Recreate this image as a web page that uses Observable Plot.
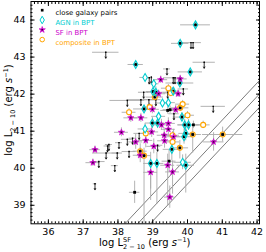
<!DOCTYPE html>
<html><head><meta charset="utf-8">
<script src="https://cdn.jsdelivr.net/npm/d3@7"></script>
<script src="https://cdn.jsdelivr.net/npm/@observablehq/plot@0.6"></script>
<style>body{margin:0;background:#fff} svg{font-family:"DejaVu Sans",sans-serif}</style>
</head><body><div id="chart"></div>
<script>
const xDomain = [35.5, 42.07];
const yDomain = [38.5, 44.5];
const xTicks = [36, 37, 38, 39, 40, 41, 42];
const yTicks = [39, 40, 41, 42, 43, 44];
const relationOffsets = [0.30, -0.065, -0.425];

// [x, y, xerr, yerrLow, yerrHigh, pair]
const agn = [
  [40.23,43.87,0.43,0.08,0.08,1],[39.79,43.37,0.25,0.08,0.08,1],[38.51,42.80,0.22,0.08,0.08,1],
  [40.08,42.60,0.35,0.08,0.08,1],[39.78,42.30,0.40,0.1,0.1,1],[39.01,42.07,0.2,0.1,0.1,1],
  [39.09,42.05,0.25,0.15,0.15,1],[39.59,42.08,0.2,0.1,0.1,1],[38.75,41.60,0.30,0.1,0.1,1],
  [39.84,41.38,0.25,0.12,0.12,1],[39.92,41.17,0.2,0.15,0.15,1],[40.03,41.17,0.3,0.15,0.15,1],
  [38.99,41.22,0.2,0.15,0.15,1],[39.14,41.22,0.2,0.15,0.15,1],[39.95,40.94,0.2,0.2,0.2,1],
  [39.90,40.85,0.25,0.2,0.2,1],[39.55,40.51,0.25,0.3,0.3,1],[38.94,40.13,0.2,1.0,0.3,1],
  [39.12,40.13,0.2,1.1,0.3,1],[39.95,40.08,0.25,0.75,0.3,1],
  [38.78,42.45,0.15,0.08,0.08,0],[39.03,42.28,0.15,0.1,0.1,0],[39.28,41.76,0.2,0.1,0.1,0],
  [39.45,41.77,0.2,0.1,0.1,0],[38.78,41.06,0.2,0.15,0.15,0],[39.86,40.16,0.25,0.2,0.2,0],
  [39.17,41.40,0.2,0.1,0.1,0]
];
const sf = [
  [39.23,42.39,0.2,0.1,0.1,1],[39.79,42.41,0.2,0.1,0.1,1],[39.17,42.01,0.2,0.1,0.1,1],
  [39.73,42.01,0.2,0.1,0.1,1],[38.99,41.59,0.2,0.12,0.12,1],[39.66,41.58,0.2,0.12,0.12,1],
  [38.37,41.36,0.2,0.12,0.12,1],[38.66,41.36,0.2,0.12,0.12,1],[39.25,41.17,0.2,0.15,0.15,1],
  [39.45,41.05,0.2,0.2,0.2,1],[39.45,41.21,0.2,0.15,0.15,1],[38.10,40.97,0.2,0.12,0.12,1],
  [38.97,40.98,0.2,0.15,0.15,1],[39.33,40.89,0.2,0.2,0.2,1],[39.60,40.85,0.2,0.2,0.2,1],
  [38.51,40.71,0.2,0.2,0.2,1],[38.80,40.75,0.2,0.2,0.2,1],[39.03,40.59,0.2,0.2,0.2,1],
  [39.34,40.74,0.2,0.2,0.2,1],[37.34,40.50,0.15,0.1,0.1,1],[37.28,40.15,0.2,0.1,0.1,1],
  [38.64,40.35,0.2,0.2,0.2,1],[39.43,40.08,0.2,1.1,0.3,1],[39.57,39.90,0.2,0.6,0.3,1],
  [38.94,39.89,0.2,0.45,0.3,1],[39.49,39.22,0.15,0.3,0.3,1],[40.75,40.71,0.3,0.25,0.25,1]
];
const comp = [
  [39.45,42.16,0.2,0.1,0.1,0],[39.52,42.03,0.2,0.1,0.1,0],[39.86,41.73,0.2,0.1,0.1,0],
  [38.91,41.65,0.2,0.1,0.1,0],[40.00,41.43,0.2,0.1,0.1,0],[40.45,41.17,0.2,0.1,0.1,0],
  [38.32,41.51,0.2,0.1,0.1,0],[38.80,40.94,0.2,0.1,0.1,0],[39.57,40.89,0.2,0.1,0.1,0],
  [39.57,40.71,0.2,0.1,0.1,0],[39.06,41.92,0.25,0.1,0.1,1],[39.79,41.63,0.25,0.1,0.1,1],
  [40.15,40.91,0.25,0.5,0.2,1],[41.01,40.91,0.58,0.2,0.2,1],[38.64,40.46,0.2,0.2,0.2,1],
  [38.75,40.34,0.2,1.9,0.2,1],[39.78,40.55,0.25,0.3,0.2,1]
];
const pairsOnly = [
  [39.43,41.56,0.2,0.1,0.1],[39.50,41.58,0.2,0.1,0.1],[40.17,41.17,0.3,0.1,0.1],
  [39.47,40.19,0.2,0.3,0.3],[38.48,39.35,0.15,0.3,0.3]
];
// [x, y, xerr] upper limits
const upperLimits = [
  [37.65,43.13,0.38],[40.10,43.39,0.3],[40.16,43.39,0],[40.48,42.86,0.32],[39.41,42.68,0.1],
  [39.59,42.44,0.28],[39.64,42.44,0],[38.90,42.44,0.1],[38.96,42.46,0],[38.74,42.05,0.15],
  [39.88,42.14,0.15],[39.43,42.05,0.1],[40.74,41.67,0.35],[38.66,41.85,0.4],[38.27,41.83,0.5],
  [38.89,41.85,0.15],[39.09,41.85,0.15],[39.61,41.47,0.15],[37.34,39.58,0.05],[37.45,40.18,0.18],
  [37.70,40.60,0.1],[37.66,40.41,0.39],[37.98,40.41,0.15],[38.03,40.69,0.1],[37.91,40.07,0.1],
  [38.32,40.45,0.2],[38.27,40.78,0.17],[38.42,40.81,0.1],[38.61,40.94,0.15],[39.14,40.62,0.15],
  [37.74,40.64,0.1]
];
const legendLabels = ["close galaxy pairs", "AGN in BPT", "SF in BPT", "composite in BPT"];
const legendColors = ["black", "#00CED1", "#CC00CC", "#FFA500"];
const CYAN = legendColors[1], MAG = legendColors[2], ORA = legendColors[3];

const rows = (arr, cls) => arr.map(([x,y,xe,ylo,yhi,pair]) => ({x,y,xe,ylo,yhi,pair,cls}));
const det = [...rows(agn,"agn"), ...rows(sf,"sf"), ...rows(comp,"comp"),
  ...pairsOnly.map(([x,y,xe,ylo,yhi]) => ({x,y,xe,ylo,yhi,pair:1,cls:"pair"}))];
const ul = upperLimits.map(([x,y,xe]) => ({x,y,xe}));
const relLines = relationOffsets.flatMap(c => xDomain.map(x => ({c, x, y: x + c})));
const xMinor = d3.range(356, 421).map(v => v/10);
const yMinor = d3.range(386, 445).map(v => v/10);

const legendMarks = [];
const lx = 11.2, ly0 = 8.7, lstep = 9.8;
legendMarks.push(Plot.dot([0], {frameAnchor:"top-left", dx:lx, dy:ly0, symbol:"square", r:1.5, fill:"black"}));
legendMarks.push(Plot.dot([0], {frameAnchor:"top-left", dx:lx, dy:ly0+lstep, symbol:"diamond", r:2.3, stroke:CYAN, strokeWidth:1, fill:"white"}));
legendMarks.push(Plot.dot([0], {frameAnchor:"top-left", dx:lx, dy:ly0+2*lstep, symbol:"star", r:2.0, stroke:MAG, fill:MAG, strokeWidth:0.6}));
legendMarks.push(Plot.dot([0], {frameAnchor:"top-left", dx:lx, dy:ly0+2*lstep, symbol:"square", r:0.8, fill:"#300030"}));
legendMarks.push(Plot.dot([0], {frameAnchor:"top-left", dx:lx, dy:ly0+3*lstep, r:2.3, stroke:ORA, strokeWidth:1, fill:"white"}));
legendLabels.forEach((lab, i) => legendMarks.push(
  Plot.text([lab], {frameAnchor:"top-left", dx:24.5, dy:ly0+i*lstep, text:d=>d, textAnchor:"start", fill:legendColors[i], fontSize:6.9})
));

const svg = Plot.plot({
  width: 266, height: 252,
  marginLeft: 30.5, marginRight: 7, marginTop: 1, marginBottom: 28.7,
  style: {fontFamily: "DejaVu Sans, sans-serif", fontSize: "9.5px", color: "black", background: "white"},
  x: {domain: xDomain, label: null},
  y: {domain: yDomain, label: null},
  marks: [
    Plot.line(relLines, {x:"x", y:"y", z:"c", stroke:"#444", strokeWidth:0.7, clip:true}),
    Plot.ruleY(det.filter(d => d.xe > 0), {y:"y", x1:d => d.x - d.xe, x2:d => d.x + d.xe, stroke:"#aaaaaa", strokeWidth:0.9, clip:true}),
    Plot.ruleX(det, {x:"x", y1:d => d.y - d.ylo, y2:d => d.y + d.yhi, stroke:"#aaaaaa", strokeWidth:0.9, clip:true}),
    Plot.ruleY(ul.filter(d => d.xe > 0), {y:"y", x1:d => d.x - d.xe, x2:d => d.x + d.xe, stroke:"#aaaaaa", strokeWidth:0.9, clip:true}),
    Plot.arrow(ul, {x1:"x", y1:"y", x2:"x", y2:d => d.y - 0.16, stroke:"black", strokeWidth:0.8, headLength:2.6}),
    Plot.dot(ul, {x:"x", y:"y", symbol:"square", r:0.8, fill:"black"}),
    Plot.dot(det.filter(d => d.pair), {x:"x", y:"y", symbol:"square", r:1.6, fill:"black"}),
    Plot.dot(det.filter(d => d.cls === "comp"), {x:"x", y:"y", r:2.5, stroke:ORA, strokeWidth:1.1, fill:d => d.pair ? "none" : "white"}),
    Plot.dot(det.filter(d => d.cls === "agn"), {x:"x", y:"y", symbol:"diamond", r:2.4, stroke:CYAN, strokeWidth:1.1, fill:d => d.pair ? "none" : "white"}),
    Plot.dot(det.filter(d => d.cls === "sf"), {x:"x", y:"y", symbol:"star", r:2.0, fill:MAG, stroke:MAG, strokeWidth:0.6}),
    Plot.dot(det.filter(d => d.cls === "sf"), {x:"x", y:"y", symbol:"square", r:0.8, fill:"#300030"}),
    ...legendMarks,
    Plot.frame({stroke:"black", strokeWidth:1}),
    Plot.axisX(xTicks, {anchor:"bottom", tickSize:-4, tickPadding:8, label:null, fontSize:9.5}),
    Plot.axisX(xMinor, {anchor:"bottom", tickSize:-2, fill:"none", label:null}),
    Plot.axisX(xTicks, {anchor:"top", tickSize:-4, fill:"none", label:null}),
    Plot.axisX(xMinor, {anchor:"top", tickSize:-2, fill:"none", label:null}),
    Plot.axisY(yTicks, {anchor:"left", tickSize:-4, tickPadding:9.5, label:null, fontSize:9.5}),
    Plot.axisY(yMinor, {anchor:"left", tickSize:-2, fill:"none", label:null}),
    Plot.axisY(yTicks, {anchor:"right", tickSize:-4, fill:"none", label:null}),
    Plot.axisY(yMinor, {anchor:"right", tickSize:-2, fill:"none", label:null})
  ]
});
document.getElementById("chart").append(svg);

const S = d3.select(svg);
// x label
const xl = S.append("text").attr("x", 144.75).attr("y", 246).attr("text-anchor", "middle")
  .attr("font-size", 10).attr("fill", "black");
xl.append("tspan").text("log L");
xl.append("tspan").attr("font-size", 6.5).attr("dy", -4.5).text("SF");
xl.append("tspan").attr("font-size", 6.5).attr("dx", -7.9).attr("dy", 7.5).text("2 − 10");
xl.append("tspan").attr("dy", -3).text(" (erg ");
xl.append("tspan").attr("font-style", "italic").text("s");
xl.append("tspan").attr("font-size", 6.5).attr("dy", -4).text("−1");
xl.append("tspan").attr("dy", 4).text(")");
// y label
const yl = S.append("text").attr("transform", "rotate(-90)").attr("x", -110).attr("y", 12)
  .attr("text-anchor", "middle").attr("font-size", 10).attr("fill", "black");
yl.append("tspan").text("log L");
yl.append("tspan").attr("font-size", 6.5).attr("dy", 2.5).text("2 − 10");
yl.append("tspan").attr("dy", -2.5).text(" (erg ");
yl.append("tspan").attr("font-style", "italic").text("s");
yl.append("tspan").attr("font-size", 6.5).attr("dy", -4).text("−1");
yl.append("tspan").attr("dy", 4).text(")");
</script>
</body></html>
